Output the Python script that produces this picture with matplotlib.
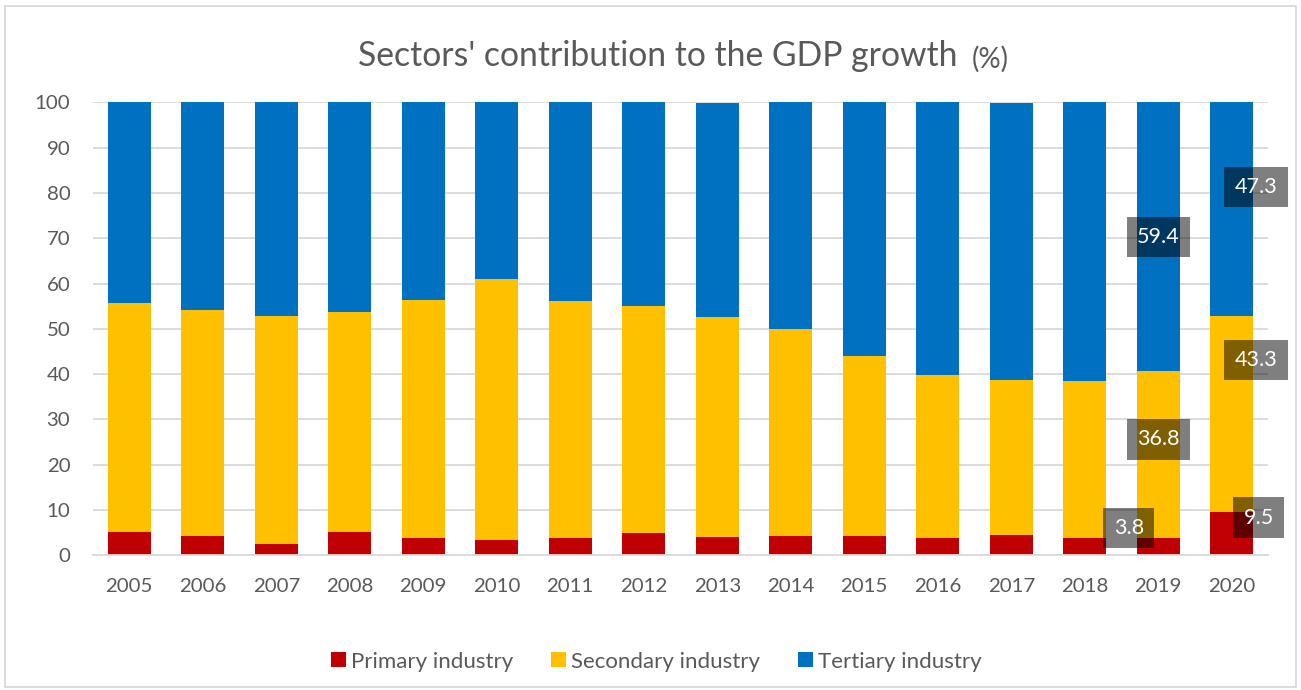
import matplotlib.pyplot as plt
import numpy as np
from matplotlib.patches import Rectangle

plt.rcParams['font.family'] = ['Lato', 'DejaVu Sans']

years = ['2005', '2006', '2007', '2008', '2009', '2010', '2011', '2012',
         '2013', '2014', '2015', '2016', '2017', '2018', '2019', '2020']
primary = [5.1, 4.3, 2.6, 5.1, 3.8, 3.4, 3.9, 4.9,
           4.0, 4.3, 4.3, 3.8, 4.4, 3.9, 3.8, 9.5]
secondary = [50.6, 49.9, 50.2, 48.7, 52.6, 57.6, 52.3, 50.1,
             48.7, 45.7, 39.8, 36.1, 34.3, 34.5, 36.8, 43.3]
tertiary = [44.3, 45.8, 47.2, 46.2, 43.6, 39.0, 43.8, 45.0,
            47.1, 50.0, 55.9, 60.1, 61.1, 61.6, 59.4, 47.3]
series_names = ['Primary industry', 'Secondary industry', 'Tertiary industry']
colors = ['#C00000', '#FFC000', '#0070C0']

# value labels shown on the last two years: (year index, series index, x shift, y position)
labelled = [(14, 0, -0.40, 6.0), (14, 1, 0.0, 25.6), (14, 2, 0.0, 70.3),
            (15, 0, 0.37, 8.3), (15, 1, 0.33, 43.1), (15, 2, 0.33, 81.3)]

grey = '#595959'
fig = plt.figure(figsize=(13.01, 6.90), dpi=100)
ax = fig.add_axes([0.0711, 0.1952, 0.9039, 0.6565])

x = np.arange(len(years))
data = [primary, secondary, tertiary]
bottom = np.zeros(len(years))
for vals, name, c in zip(data, series_names, colors):
    ax.bar(x, vals, 0.58, bottom=bottom, color=c, label=name, zorder=2)
    bottom += np.array(vals)

for i, s, dx, ypos in labelled:
    ax.text(x[i] + dx, ypos, f'{data[s][i]:.1f}', ha='center', va='center',
            color='white', fontsize=15.5, zorder=5,
            bbox=dict(boxstyle='square,pad=0.48', facecolor=(0, 0, 0, 0.5), edgecolor='none'))

ax.set_xlim(-0.5, len(years) - 0.5)
ax.set_ylim(0, 100)
ax.set_yticks(np.arange(0, 101, 10))
ax.set_xticks(x, years)
ax.yaxis.grid(True, color='#D9D9D9', linewidth=1.3, zorder=0)
ax.set_axisbelow(True)
for side in ['top', 'right', 'left']:
    ax.spines[side].set_visible(False)
ax.spines['bottom'].set_color('#D9D9D9')
ax.spines['bottom'].set_linewidth(1.3)
ax.tick_params(axis='both', length=0, labelsize=14.7, labelcolor=grey)
ax.tick_params(axis='x', pad=16)
ax.tick_params(axis='y', pad=16)

title = fig.text(0.5058, 0.904, "Sectors' contribution to the GDP growth",
                 ha='center', va='baseline', fontsize=24.3, color=grey)
ax.annotate('(%)', xy=(1, 0), xycoords=title, xytext=(10, 0), textcoords='offset points',
            ha='left', va='bottom', fontsize=20, color=grey, annotation_clip=False)

leg = fig.legend(loc='center', bbox_to_anchor=(0.5046, 0.041), ncols=3, frameon=False,
                 fontsize=16, handlelength=0.65, handleheight=0.65, handletextpad=0.25,
                 columnspacing=1.7)
for t in leg.get_texts():
    t.set_color(grey)

fig.patches.append(Rectangle((0.004, 0.004), 0.992, 0.988, transform=fig.transFigure,
                             fill=False, edgecolor='#D9D9D9', linewidth=1.3))

fig.savefig('out.png', dpi=100)
